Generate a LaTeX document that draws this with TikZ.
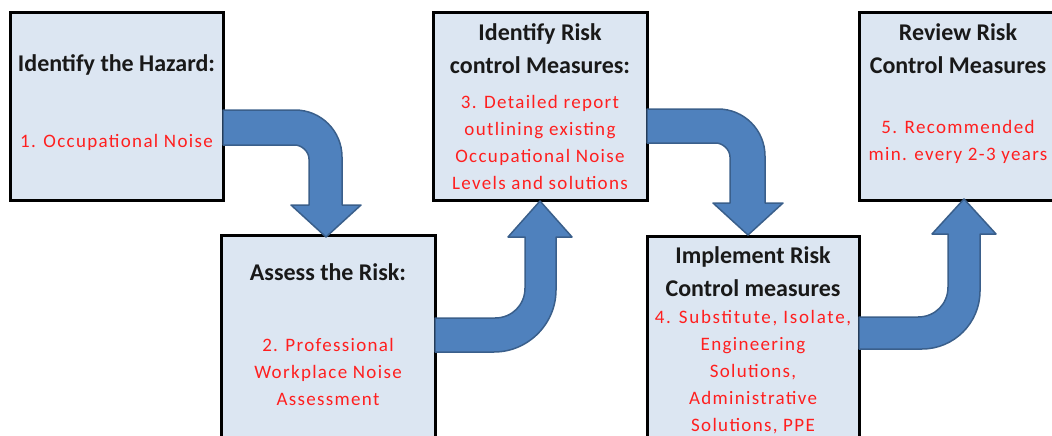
\documentclass[tikz,border=0pt]{standalone}
\usepackage{fontspec}
\setmainfont{Carlito}
\newfontfamily\spacedfont[LetterSpace=7]{Carlito}
\newfontfamily\widefont[LetterSpace=9]{Carlito}
\usetikzlibrary{positioning}
\definecolor{boxfill}{HTML}{DCE6F2}
\definecolor{arrowfill}{HTML}{4F81BD}
\definecolor{arrowline}{HTML}{3A5F8B}
\definecolor{notered}{HTML}{FF1F1F}

\begin{document}
\begin{tikzpicture}[x=1pt,y=-1pt,
	box/.style={draw,line width=3pt,fill=boxfill,rectangle,inner sep=0pt},
	title/.style={font=\bfseries\fontsize{24}{33}\selectfont,align=center,text=black!90},
	note/.style={font=\spacedfont\fontsize{19}{27}\selectfont,align=center,text=notered},
	blockarrow/.style={draw=arrowline,fill=arrowfill,line width=1.5pt,line join=round}]
		\useasboundingbox (0,0) rectangle (1052,436);
		\clip (0,0) rectangle (1052,436);
		% the five steps
		\node [box,minimum width=213pt,minimum height=187pt] (haz) at (116.5,106.5) {};
		\node [box,minimum width=214pt,minimum height=225pt] (assess) at (328,347.5) {};
		\node [box,minimum width=214pt,minimum height=187pt] (ident) at (540,106.5) {};
		\node [box,minimum width=212pt,minimum height=224pt] (impl) at (753,348) {};
		\node [box,minimum width=198pt,minimum height=187pt] (review) at (958,106.5) {};
		% bent block arrows
		\draw [blockarrow] (223,110) -- (295,110) .. controls (321,110) and (342,131) .. (342,157) -- (342,205)
			-- (361,205) -- (326,237) -- (291,205) -- (309,205) -- (309,159) .. controls (309,151) and (301,145) .. (295,145) -- (223,145) -- cycle;
		\draw [blockarrow] (435,318) -- (495,318) .. controls (512,318) and (525,305) .. (525,288) -- (525,237)
			-- (508,237) -- (540,201) -- (572,237) -- (556,237) -- (556,290) .. controls (556,324) and (528,352) .. (494,352) -- (435,352) -- cycle;
		\draw [blockarrow] (647,109) -- (718,109) .. controls (744,109) and (765,130) .. (765,156) -- (765,203)
			-- (783,203) -- (748,235) -- (713,203) -- (730,203) -- (730,157) .. controls (730,149) and (722,143) .. (716,143) -- (647,143) -- cycle;
		\draw [blockarrow] (859,317) -- (918,317) .. controls (935,317) and (948,304) .. (948,287) -- (948,234)
			-- (932,234) -- (964,199) -- (996,234) -- (980,234) -- (980,291) .. controls (980,323) and (954,349) .. (922,349) -- (859,349) -- cycle;
		% texts
		\node [title] (hazT) at (116.5,65) {Identify the Hazard:};
		\node [note] (hazN) at (116.5,142) {1. Occupational Noise};
		\node [title] (assessT) at (328,272) {Assess the Risk:};
		\node [note] (assessN) at (328,372) {2. Professional\\Workplace Noise\\Assessment};
		\node [title] (identT) at (540,48.5) {Identify Risk\\control Measures:};
		\node [note] (identN) at (540,142.5) {3. Detailed report\\outlining existing\\Occupational Noise\\Levels and solutions};
		\node [title] (implT) at (753,271.5) {Implement Risk\\Control measures};
		\node [note] (implN) at (753,372.5) {{\widefont 4. Substitute, Isolate,}\\Engineering\\Solutions,\\Administrative\\Solutions, PPE};
		\node [title] (reviewT) at (958,48.5) {Review Risk\\Control Measures};
		\node [note] (reviewN) at (958,142) {5. Recommended\\min. every 2-3 years};
	\end{tikzpicture}
\end{document}
